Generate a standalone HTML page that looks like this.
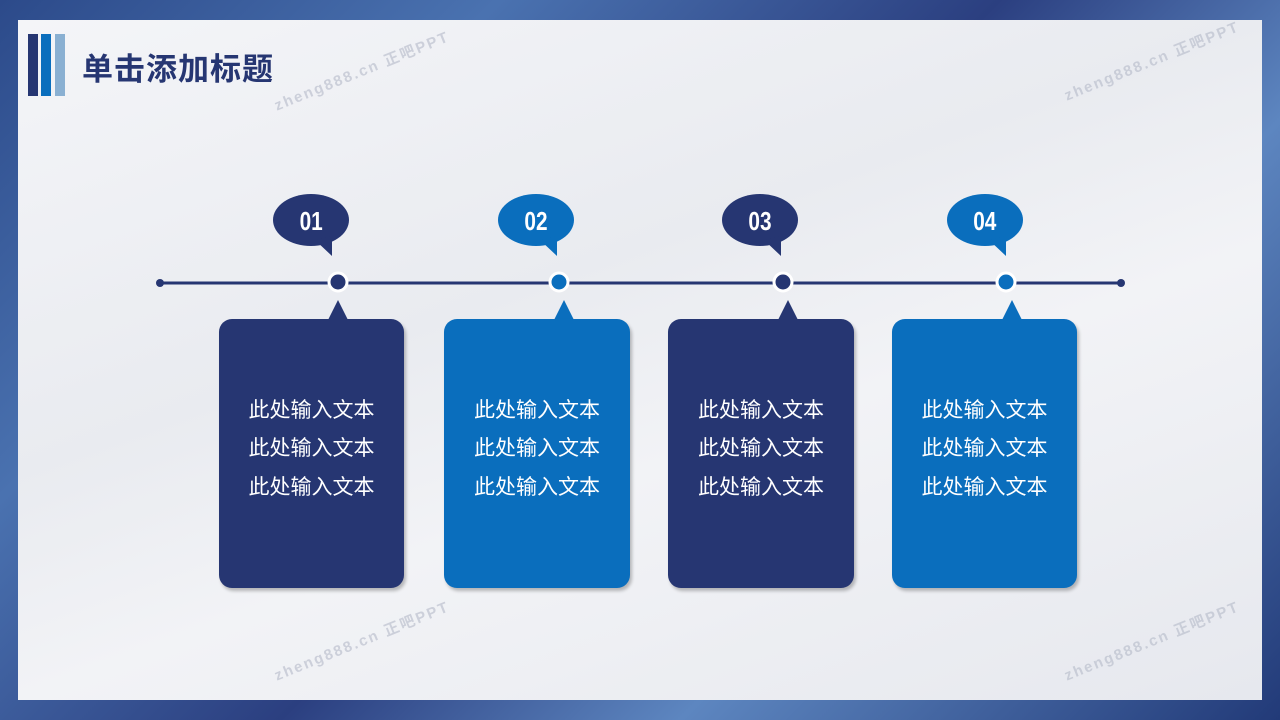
<!DOCTYPE html>
<html><head><meta charset="utf-8"><style>
body{margin:0;width:1280px;height:720px;overflow:hidden;font-family:"Liberation Sans","Noto Sans CJK SC",sans-serif;}
.bg{position:absolute;inset:0;background:linear-gradient(135deg,#2c4a8a 0%,#4a72b0 25%,#2b3f80 50%,#5d86c0 70%,#223a78 100%);}
.panel{position:absolute;left:18px;top:20px;width:1244px;height:680px;background:linear-gradient(160deg,#f4f5f8 0%,#e9ebf0 40%,#f2f3f6 60%,#e6e8ee 100%);}
.bar{position:absolute;top:34px;height:62px;width:10px}
.title{position:absolute;left:82px;top:44px;font-size:31px;font-weight:bold;color:#263672;letter-spacing:1px;}
.box{position:absolute;top:319px;height:269px;border-radius:13px;color:#fff;font-size:21px;text-align:center;box-shadow:2px 3px 3px rgba(0,0,0,.25);}
.box div{position:absolute;left:0;right:0;}
.wm{position:absolute;color:rgba(180,185,200,.6);font-size:15px;font-weight:bold;letter-spacing:2px;transform:rotate(-22deg);}
</style></head><body>
<div class="bg"></div>
<div class="panel"></div>
<div class="bar" style="left:28px;background:#263672"></div>
<div class="bar" style="left:41px;background:#0a6ebd"></div>
<div class="bar" style="left:55px;background:#8ab0d2"></div>
<div class="title">单击添加标题</div>
<div class="wm" style="left:268px;top:60px">zheng888.cn 正吧PPT</div>
<div class="wm" style="left:1058px;top:50px">zheng888.cn 正吧PPT</div>
<div class="wm" style="left:268px;top:630px">zheng888.cn 正吧PPT</div>
<div class="wm" style="left:1058px;top:630px">zheng888.cn 正吧PPT</div>
<svg width="1280" height="720" style="position:absolute;left:0;top:0">
<line x1="160" y1="283" x2="1121" y2="283" stroke="#263672" stroke-width="3"/>
<circle cx="160" cy="283" r="4" fill="#263672"/><circle cx="1121" cy="283" r="4" fill="#263672"/>
<g font-family="Liberation Sans,sans-serif" font-weight="bold" font-size="26" fill="#fff" text-anchor="middle">
<g fill="#263672"><ellipse cx="311" cy="220" rx="38" ry="26"/><polygon points="315,240 332,256 332,236"/><circle cx="338" cy="282" r="9" stroke="#fff" stroke-width="3"/><polygon points="338,300 328,320 348,320"/></g>
<text x="311" y="230" fill="#fff" transform="scale(0.8,1) translate(78,0)">01</text>
<g fill="#0a6ebd"><ellipse cx="536" cy="220" rx="38" ry="26"/><polygon points="540,240 557,256 557,236"/><circle cx="559" cy="282" r="9" stroke="#fff" stroke-width="3"/><polygon points="564,300 554,320 574,320"/></g>
<text x="536" y="230" fill="#fff" transform="scale(0.8,1) translate(134,0)">02</text>
<g fill="#263672"><ellipse cx="760" cy="220" rx="38" ry="26"/><polygon points="764,240 781,256 781,236"/><circle cx="783" cy="282" r="9" stroke="#fff" stroke-width="3"/><polygon points="788,300 778,320 798,320"/></g>
<text x="760" y="230" fill="#fff" transform="scale(0.8,1) translate(190,0)">03</text>
<g fill="#0a6ebd"><ellipse cx="985" cy="220" rx="38" ry="26"/><polygon points="989,240 1006,256 1006,236"/><circle cx="1006" cy="282" r="9" stroke="#fff" stroke-width="3"/><polygon points="1012,300 1002,320 1022,320"/></g>
<text x="985" y="230" fill="#fff" transform="scale(0.8,1) translate(246,0)">04</text>
</g></svg>
<div class="box" style="left:219px;width:185px;background:#263672"><div style="top:75px">此处输入文本</div><div style="top:113px">此处输入文本</div><div style="top:152px">此处输入文本</div></div>
<div class="box" style="left:444px;width:186px;background:#0a6ebd"><div style="top:75px">此处输入文本</div><div style="top:113px">此处输入文本</div><div style="top:152px">此处输入文本</div></div>
<div class="box" style="left:668px;width:186px;background:#263672"><div style="top:75px">此处输入文本</div><div style="top:113px">此处输入文本</div><div style="top:152px">此处输入文本</div></div>
<div class="box" style="left:892px;width:185px;background:#0a6ebd"><div style="top:75px">此处输入文本</div><div style="top:113px">此处输入文本</div><div style="top:152px">此处输入文本</div></div>
</body></html>
